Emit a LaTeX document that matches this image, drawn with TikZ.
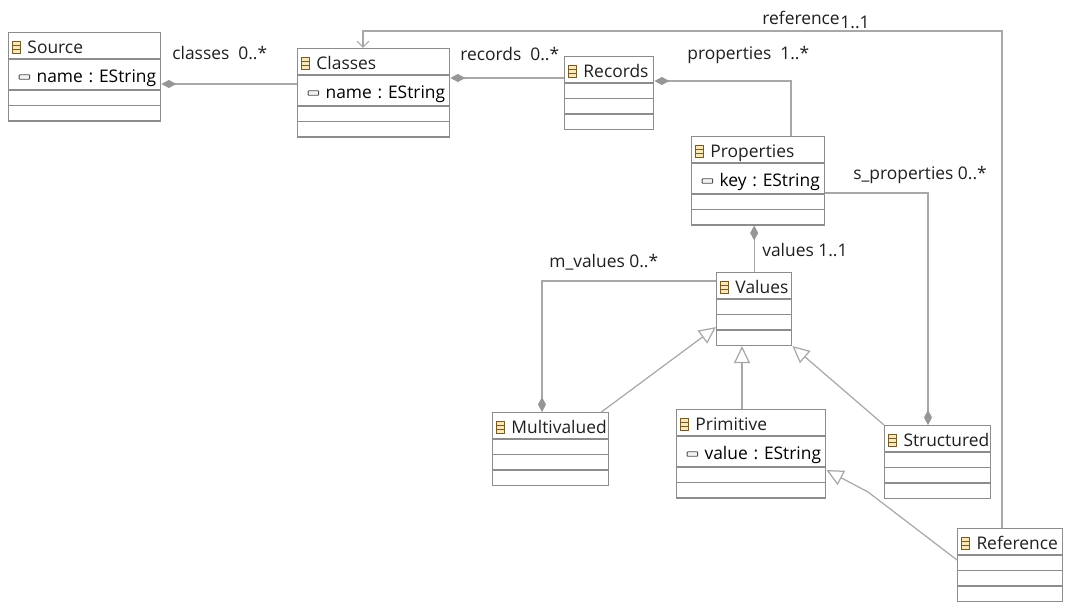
\documentclass[tikz,border=0pt]{standalone}
\usepackage{fontspec}
\setmainfont{Open Sans}
\usetikzlibrary{shapes.multipart, arrows.meta, calc}
\frenchspacing

\definecolor{boxgray}{RGB}{140,140,140}
\definecolor{linegray}{RGB}{168,168,168}
\definecolor{diagray}{RGB}{150,150,150}
\definecolor{icobrown}{RGB}{120,90,35}
\definecolor{icofill}{RGB}{246,232,185}

% little icons of the class header and of an attribute
\newcommand\clsicon{\tikz[baseline=0pt]{%
  \draw[icobrown, fill=icofill, line width=0.45pt] (0,0) rectangle (0.16cm,0.25cm);
  \draw[icobrown, line width=0.45pt] (0,0.083cm) -- (0.16cm,0.083cm) (0,0.167cm) -- (0.16cm,0.167cm);}}
\newcommand\atticon{\tikz[baseline=0pt]{%
  \draw[black!70, fill=gray!10, line width=0.5pt, rounded corners=0.4pt] (0,0.06cm) rectangle (0.21cm,0.15cm);}}

% compartments: header, attribute, empty row
\newcommand\hd[1]{\mbox{\rule{0pt}{0.5cm}\raisebox{0.1cm}{\hspace*{0.07cm}\clsicon\hspace{0.13cm}#1}}}
\newcommand\att[1]{\mbox{\rule{0pt}{0.59cm}\raisebox{0.14cm}{\hspace*{0.2cm}\atticon\hspace{0.13cm}#1}}}
\newcommand\emp{\rule{0pt}{0.28cm}}

\begin{document}
\begin{tikzpicture}[x=0.02cm, y=-0.02cm, font=\fontsize{9.9}{12}\selectfont,
  cls/.style={rectangle split, rectangle split parts=4, draw=boxgray,
              line width=0.8pt, inner sep=0pt, text width=#1, align=left,
              anchor=north west, text=black!88},
  lbl/.style={anchor=base west, inner sep=0pt, text=black!88},
  conn/.style={draw=linegray, line width=0.7pt},
  comp/.style={conn, {Diamond[length=0.3cm, width=0.16cm, color=diagray, fill=diagray]}-},
  gen/.style={conn, -{Triangle[open, length=0.34cm, width=0.32cm, fill=white]}},
  nav/.style={conn, -{Straight Barb[length=0.12cm, width=0.24cm]}}
]
  \useasboundingbox (0,0) rectangle (1065,604);

  \node[cls=3.04cm] (src) at (8,32)
    {\hd{Source}\nodepart{two}\att{name : EString}\nodepart{three}\emp\nodepart{four}\emp};
  \node[cls=3.04cm] (cls) at (297,48)
    {\hd{Classes}\nodepart{two}\att{name : EString}\nodepart{three}\emp\nodepart{four}\emp};
  \node[cls=1.78cm] (rec) at (564,56)
    {\hd{Records}\nodepart{two}\emp\nodepart{three}\emp\nodepart{four}\emp};
  \node[cls=2.66cm] (prop) at (691,136)
    {\hd{Properties}\nodepart{two}\att{key : EString}\nodepart{three}\emp\nodepart{four}\emp};
  \node[cls=1.5cm] (val) at (716,272)
    {\hd{Values}\nodepart{two}\emp\nodepart{three}\emp\nodepart{four}\emp};
  \node[cls=2.32cm] (mv) at (492,412)
    {\hd{Multivalued}\nodepart{two}\emp\nodepart{three}\emp\nodepart{four}\emp};
  \node[cls=2.98cm] (prim) at (676,409)
    {\hd{Primitive}\nodepart{two}\att{value : EString}\nodepart{three}\emp\nodepart{four}\emp};
  \node[cls=2.12cm] (str) at (884,425)
    {\hd{Structured}\nodepart{two}\emp\nodepart{three}\emp\nodepart{four}\emp};
  \node[cls=2.1cm] (ref) at (957,528)
    {\hd{Reference}\nodepart{two}\emp\nodepart{three}\emp\nodepart{four}\emp};

  % containments
  \draw[comp] ($(src.north east)+(0,52)$) -- ($(cls.north west)+(0,36)$);
  \draw[comp] ($(cls.north east)+(0,30)$) -- ($(rec.north west)+(0,22)$);
  \draw[comp] ($(rec.north east)+(0,25)$) -| ($(prop.north west)+(100,0)$);
  \draw[comp] (prop.south -| val.north) -- (val.north);
  \draw[comp] ($(mv.north west)+(50,0)$) |- ($(val.north west)+(0,9)$);
  \draw[comp] ($(str.north west)+(44,0)$) |- ($(prop.north east)+(0,57)$);
  \draw[nav] ($(ref.north west)+(45,0)$) |- ($(cls.north west)+(66,-17)$)
             -- ($(cls.north west)+(66,0)$);

  % generalisations
  \draw[gen] ($(mv.north east)+(-8,0)$) -- ($(val.south west)+(0,-19)$);
  \draw[gen] ($(prim.north west)+(66,0)$) -- ($(val.south west)+(26,0)$);
  \draw[gen] (str.north west) -- (val.south east);
  \coordinate (bend) at (868,492);
  \draw[gen] ($(ref.north west)+(0,32)$) -- (bend) -- ($(prim.north east)+(0,61)$);

  \node[lbl] (l1) at (172,60) {classes\ \ 0..*};
  \node[lbl] (l2) at (460,61) {records\ \ 0..*};
  \node[lbl] (l3) at (687,60) {properties\ \ 1..*};
  \node[lbl] (l4) at (762,25) {reference};
  \node[lbl] (l5) at (l4.base east) [yshift=-0.08cm] {1..1};
  \node[lbl] (l6) at (853,180) {s\_properties 0..*};
  \node[lbl] (l7) at (762,257) {values 1..1};
  \node[lbl] (l8) at (549,268) {m\_values\ 0..*};
\end{tikzpicture}
\end{document}
